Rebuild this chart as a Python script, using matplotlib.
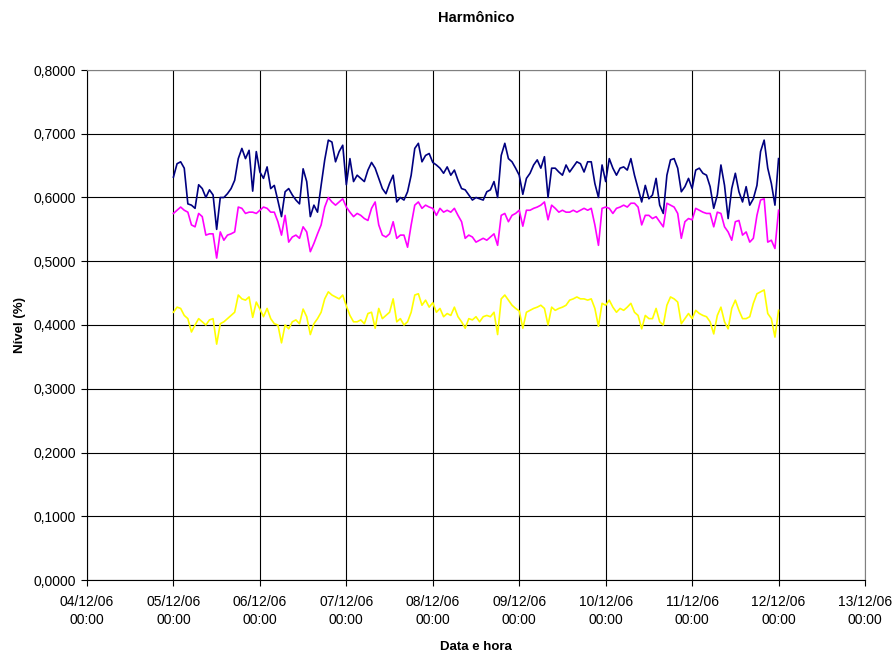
import matplotlib
matplotlib.use("Agg")
import matplotlib.pyplot as plt
import matplotlib.dates as mdates
import matplotlib.ticker as mticker
import pandas as pd

plt.rcParams['font.family'] = ['Liberation Sans', 'DejaVu Sans']

# hourly readings from 05/12/06 00:00 to 12/12/06 00:00
navy_d1 = [0.632,0.653,0.656,0.646,0.590,0.588,0.583,0.620,0.614,0.600,0.612,0.604,0.550,0.600,0.600,0.606,0.614,0.627,0.661,0.677,0.661,0.674,0.610,0.672]
navy_d2 = [0.640,0.630,0.648,0.614,0.619,0.595,0.570,0.609,0.614,0.604,0.596,0.590,0.645,0.625,0.570,0.588,0.577,0.619,0.659,0.690,0.687,0.656,0.672,0.682]
navy_d3 = [0.620,0.661,0.625,0.635,0.630,0.625,0.643,0.655,0.646,0.630,0.614,0.606,0.622,0.635,0.593,0.600,0.596,0.609,0.635,0.677,0.685,0.656,0.666,0.669]
navy_d4 = [0.655,0.651,0.646,0.638,0.648,0.635,0.643,0.627,0.614,0.612,0.604,0.596,0.600,0.598,0.596,0.609,0.612,0.625,0.600,0.666,0.685,0.661,0.656,0.646]
navy_d5 = [0.635,0.605,0.630,0.638,0.651,0.659,0.646,0.664,0.600,0.646,0.646,0.640,0.635,0.651,0.640,0.648,0.656,0.653,0.640,0.656,0.656,0.622,0.600,0.651]
navy_d6 = [0.625,0.661,0.646,0.635,0.646,0.648,0.643,0.661,0.635,0.614,0.593,0.619,0.598,0.604,0.630,0.588,0.575,0.635,0.659,0.661,0.646,0.609,0.617,0.630]
navy_d7 = [0.614,0.643,0.646,0.638,0.635,0.617,0.583,0.604,0.651,0.619,0.567,0.614,0.638,0.609,0.593,0.617,0.588,0.598,0.619,0.672,0.690,0.646,0.622,0.588]
navy_end = [0.661]

mag_d1 = [0.575,0.580,0.585,0.580,0.577,0.557,0.554,0.575,0.570,0.541,0.543,0.543,0.505,0.546,0.533,0.541,0.543,0.546,0.585,0.583,0.575,0.577,0.577,0.575]
mag_d2 = [0.580,0.585,0.583,0.577,0.577,0.562,0.541,0.572,0.530,0.538,0.541,0.536,0.554,0.546,0.515,0.528,0.543,0.557,0.585,0.600,0.593,0.588,0.593,0.598]
mag_d3 = [0.585,0.577,0.570,0.575,0.572,0.567,0.564,0.583,0.593,0.557,0.541,0.538,0.543,0.562,0.536,0.541,0.541,0.522,0.557,0.588,0.593,0.583,0.588,0.585]
mag_d4 = [0.583,0.572,0.583,0.577,0.580,0.577,0.583,0.572,0.562,0.536,0.541,0.538,0.530,0.533,0.536,0.533,0.538,0.543,0.525,0.572,0.575,0.562,0.572,0.575]
mag_d5 = [0.580,0.555,0.580,0.580,0.583,0.585,0.588,0.593,0.565,0.588,0.583,0.577,0.580,0.577,0.577,0.580,0.577,0.580,0.583,0.580,0.583,0.557,0.525,0.583]
mag_d6 = [0.585,0.583,0.575,0.583,0.585,0.588,0.585,0.591,0.591,0.585,0.557,0.572,0.572,0.567,0.570,0.562,0.554,0.591,0.588,0.585,0.575,0.536,0.562,0.567]
mag_d7 = [0.565,0.583,0.580,0.577,0.575,0.575,0.554,0.577,0.575,0.554,0.546,0.533,0.562,0.564,0.541,0.546,0.530,0.536,0.572,0.596,0.598,0.530,0.533,0.520]
mag_end = [0.580]

yel_d1 = [0.420,0.428,0.426,0.415,0.410,0.389,0.400,0.410,0.405,0.400,0.408,0.410,0.370,0.402,0.405,0.410,0.415,0.420,0.447,0.441,0.439,0.444,0.412,0.436]
yel_d2 = [0.425,0.413,0.426,0.410,0.402,0.400,0.372,0.400,0.394,0.405,0.408,0.402,0.425,0.413,0.385,0.402,0.410,0.420,0.441,0.452,0.447,0.444,0.441,0.447]
yel_d3 = [0.430,0.415,0.405,0.405,0.408,0.402,0.418,0.420,0.395,0.426,0.410,0.415,0.420,0.441,0.405,0.410,0.400,0.405,0.420,0.447,0.449,0.431,0.439,0.428]
yel_d4 = [0.435,0.420,0.426,0.413,0.418,0.415,0.428,0.413,0.405,0.395,0.410,0.408,0.413,0.405,0.413,0.415,0.413,0.420,0.385,0.441,0.447,0.439,0.431,0.426]
yel_d5 = [0.422,0.395,0.420,0.423,0.426,0.428,0.431,0.426,0.400,0.428,0.423,0.426,0.428,0.431,0.439,0.441,0.444,0.441,0.441,0.439,0.441,0.426,0.398,0.434]
yel_d6 = [0.431,0.439,0.428,0.420,0.426,0.423,0.428,0.434,0.420,0.415,0.394,0.415,0.410,0.410,0.426,0.405,0.400,0.431,0.444,0.441,0.436,0.402,0.410,0.418]
yel_d7 = [0.410,0.423,0.418,0.415,0.413,0.405,0.386,0.415,0.428,0.405,0.394,0.426,0.439,0.423,0.410,0.410,0.413,0.434,0.449,0.452,0.455,0.418,0.410,0.381]
yel_end = [0.423]

navy = navy_d1 + navy_d2 + navy_d3 + navy_d4 + navy_d5 + navy_d6 + navy_d7 + navy_end
magenta = mag_d1 + mag_d2 + mag_d3 + mag_d4 + mag_d5 + mag_d6 + mag_d7 + mag_end
yellow = yel_d1 + yel_d2 + yel_d3 + yel_d4 + yel_d5 + yel_d6 + yel_d7 + yel_end

times = pd.date_range("2006-12-05 00:00", periods=len(navy), freq="h")

fig = plt.figure(figsize=(8.95, 6.52), dpi=100)
ax = fig.add_axes([87/895, 1-580/652, (865-87)/895, (580-70)/652])

ax.plot(times, navy, color="#000080", lw=1.2, zorder=3)
ax.plot(times, magenta, color="#FF00FF", lw=1.2, zorder=3)
ax.plot(times, yellow, color="#FFFF00", lw=1.2, zorder=3)

ax.set_xlim(pd.Timestamp("2006-12-04"), pd.Timestamp("2006-12-13"))
ax.set_ylim(0, 0.8)
ax.xaxis.set_major_locator(mdates.DayLocator())
ax.xaxis.set_major_formatter(mdates.DateFormatter("%d/%m/%y\n%H:%M"))
ax.yaxis.set_major_locator(mticker.MultipleLocator(0.1))
ax.yaxis.set_major_formatter(mticker.FuncFormatter(lambda v, p: f"{v:.4f}".replace(".", ",")))

ax.grid(True, color="black", lw=0.8, zorder=1)
for s in ["top", "right"]:
    ax.spines[s].set_color("#808080")
for s in ["left", "bottom"]:
    ax.spines[s].set_color("black")
ax.tick_params(axis="both", labelsize=10, direction="out", length=4, color="black")
ax.tick_params(axis="y", pad=4)
ax.tick_params(axis="x", pad=7)
for lbl in ax.get_xticklabels():
    lbl.set_linespacing(1.35)

ax.set_ylabel("Nível (%)", fontsize=9.5, fontweight="bold", labelpad=5)
ax.set_xlabel("Data e hora", fontsize=9.5, fontweight="bold", labelpad=10)
fig.text(476/895, 1-18/652, "Harmônico", ha="center", va="center", fontsize=10.5, fontweight="bold")

fig.savefig("out.png", dpi=100)
